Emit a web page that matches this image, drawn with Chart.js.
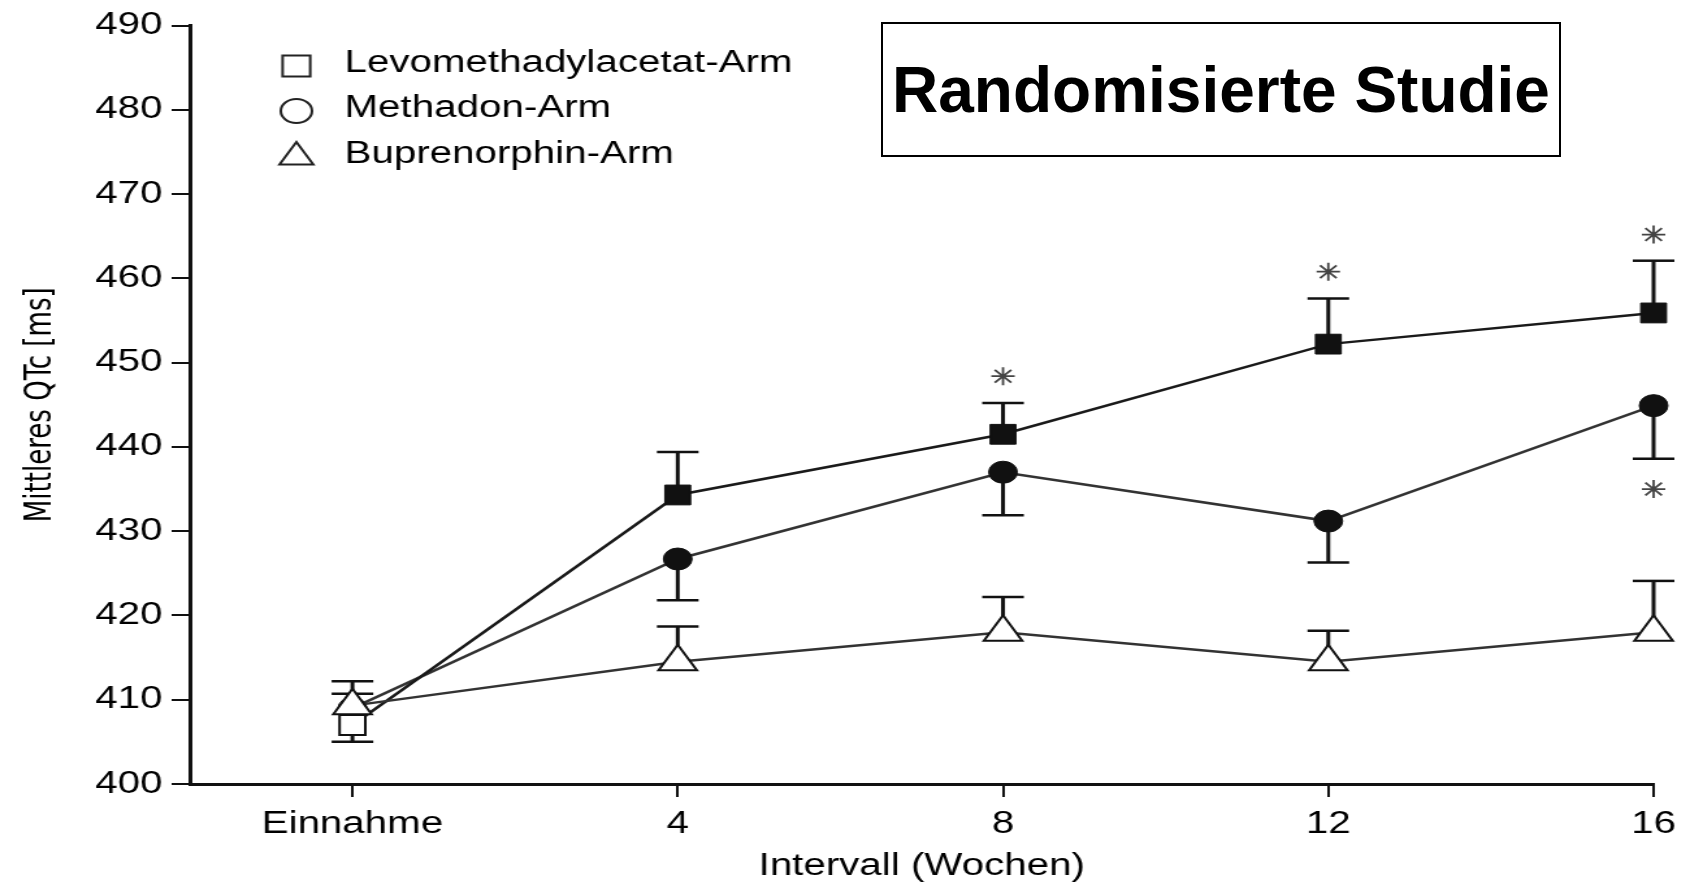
<!DOCTYPE html>
<html>
<head>
<meta charset="utf-8">
<script src="https://cdn.jsdelivr.net/npm/chart.js@4.4.0/dist/chart.umd.min.js"></script>
<style>
    html, body { margin: 0; padding: 0; background: #fff; overflow: hidden; }
    /* the source figure is stretched horizontally, so the canvas is too */
    #wrap { position: absolute; left: 0; top: 0; width: 1294px; height: 885px; transform: scaleX(1.3); transform-origin: 0 0; }
    #titleBox {
        position: absolute; left: 881px; top: 22px; width: 680px; height: 135px;
        box-sizing: border-box; border: 2.5px solid #000; background: #fff;
        font: bold 64px 'Liberation Sans', Arial, sans-serif; color: #000;
        display: flex; align-items: center; justify-content: center;
    }
</style>
</head>
<body>
<div id="wrap"><canvas id="qtcChart" width="1294" height="885"></canvas></div>
<div id="titleBox">Randomisierte Studie</div>

<script>
// ============================================
// DATOS
// ============================================

const weeks = [0, 4, 8, 12, 16];
const weekLabels = ['Einnahme', '4', '8', '12', '16'];

const seriesNames = ['Levomethadylacetat-Arm', 'Methadon-Arm', 'Buprenorphin-Arm'];

const levoMean = [407.0, 434.3, 441.5, 452.2, 455.9];
const levoErrEnd = [405.0, 439.4, 445.2, 457.6, 462.1];

const methMean = [409.0, 426.7, 437.0, 431.2, 444.9];
const methErrEnd = [410.7, 421.8, 431.9, 426.3, 438.6];

const bupMean = [409.3, 414.5, 418.0, 414.5, 418.0];
const bupErrEnd = [412.2, 418.7, 422.2, 418.2, 424.1];

// significance markers (*)
const starWeeks = [8, 12, 16, 16];
const starValues = [448.4, 460.8, 465.2, 435.0];

const yMin = 400;
const yMax = 490;
const yStep = 10;

const FONT = "'Liberation Sans', Arial, sans-serif";

// ============================================
// PLUGINS
// ============================================

const means = [levoMean, methMean, bupMean];
const errEnds = [levoErrEnd, methErrEnd, bupErrEnd];

const errorBarPlugin = {
    id: 'errorBars',
    beforeDatasetsDraw(chart) {
        const { ctx } = chart;
        const x = chart.scales.x;
        const y = chart.scales.y;
        ctx.save();
        ctx.strokeStyle = '#111';
        errEnds.forEach((ends, di) => {
            ends.forEach((end, i) => {
                const px = x.getPixelForValue(weeks[i]);
                const p0 = y.getPixelForValue(means[di][i]);
                const p1 = y.getPixelForValue(end);
                ctx.lineWidth = 3;
                ctx.beginPath();
                ctx.moveTo(px, p0);
                ctx.lineTo(px, p1);
                ctx.stroke();
                ctx.lineWidth = 2.5;
                ctx.beginPath();
                ctx.moveTo(px - 16, p1);
                ctx.lineTo(px + 16, p1);
                ctx.stroke();
            });
        });
        ctx.restore();
    }
};

const legendMarks = [
    { style: 'rect', radius: 15 },
    { style: 'circle', radius: 12 },
    { style: 'triangle', radius: 15 }
];

const innerLegendPlugin = {
    id: 'innerLegend',
    afterDraw(chart) {
        const { ctx } = chart;
        const left = chart.chartArea.left;
        const rows = [63, 108, 154];
        ctx.save();
        seriesNames.forEach((name, i) => {
            ctx.strokeStyle = '#222';
            ctx.fillStyle = '#fff';
            ctx.lineWidth = 2;
            Chart.helpers.drawPoint(ctx, {
                pointStyle: legendMarks[i].style,
                radius: legendMarks[i].radius,
                rotation: 0,
                borderWidth: 2
            }, left + 82, rows[i] + 3);
            ctx.fillStyle = '#000';
            ctx.font = '31px ' + FONT;
            ctx.textBaseline = 'middle';
            ctx.textAlign = 'left';
            ctx.fillText(name, left + 119, rows[i]);
        });
        ctx.restore();
    }
};

// ============================================
// GRÁFICO
// ============================================

function toPoints(values) {
    return weeks.map((w, i) => ({ x: w, y: values[i] }));
}

// baseline markers are hollow in the source figure
const hollowFirst = weeks.map((w, i) => (i === 0 ? '#fff' : '#111'));

const ctx = document.getElementById('qtcChart').getContext('2d');
new Chart(ctx, {
    type: 'line',
    data: {
        datasets: [
            {
                label: seriesNames[0],
                data: toPoints(levoMean),
                order: 2,
                clip: false,
                borderColor: '#1a1a1a',
                borderWidth: 2.5,
                pointStyle: 'rect',
                pointRadius: 14,
                pointBackgroundColor: hollowFirst,
                pointBorderColor: '#111',
                pointBorderWidth: [2, 1, 1, 1, 1]
            },
            {
                label: seriesNames[1],
                data: toPoints(methMean),
                order: 3,
                clip: false,
                borderColor: '#333',
                borderWidth: 2.5,
                pointStyle: 'circle',
                pointRadius: 11,
                pointBackgroundColor: hollowFirst,
                pointBorderColor: '#111',
                pointBorderWidth: 1
            },
            {
                label: seriesNames[2],
                data: toPoints(bupMean),
                order: 1,
                clip: false,
                borderColor: '#333',
                borderWidth: 2.5,
                pointStyle: 'triangle',
                pointRadius: 17,
                pointBackgroundColor: '#fff',
                pointBorderColor: '#111',
                pointBorderWidth: 2
            },
            {
                label: 'signifikant',
                data: starWeeks.map((w, i) => ({ x: w, y: starValues[i] })),
                order: 0,
                clip: false,
                showLine: false,
                pointStyle: 'star',
                pointRadius: 9,
                pointBorderColor: '#444',
                pointBorderWidth: 1.8
            }
        ]
    },
    options: {
        responsive: false,
        animation: false,
        events: [],
        layout: { autoPadding: false, padding: { top: 23, right: 22, bottom: 0, left: 0 } },
        plugins: {
            legend: { display: false },
            tooltip: { enabled: false }
        },
        scales: {
            x: {
                type: 'linear',
                min: -2,
                max: 16,
                afterFit: scale => {
                    scale.height = 101;
                    // the "16" label may hang past the axis end, as in the source
                    scale.paddingLeft = 0;
                    scale.paddingRight = 0;
                },
                afterBuildTicks: scale => {
                    scale.ticks = weeks.map(v => ({ value: v }));
                },
                ticks: {
                    autoSkip: false,
                    maxRotation: 0,
                    padding: 9,
                    color: '#000',
                    font: { family: FONT, size: 31 },
                    callback: value => weekLabels[weeks.indexOf(value)]
                },
                grid: {
                    display: true,
                    drawOnChartArea: false,
                    drawTicks: true,
                    tickLength: 13,
                    color: '#111',
                    lineWidth: 2
                },
                border: { display: true, color: '#111', width: 3 },
                title: {
                    display: true,
                    text: 'Intervall (Wochen)',
                    color: '#000',
                    font: { family: FONT, size: 31 },
                    padding: { top: 0, bottom: 0 }
                }
            },
            y: {
                min: yMin,
                max: yMax,
                afterFit: scale => { scale.width = 146; },
                ticks: {
                    stepSize: yStep,
                    padding: 7,
                    color: '#000',
                    font: { family: FONT, size: 31 }
                },
                grid: {
                    display: true,
                    drawOnChartArea: false,
                    drawTicks: true,
                    tickLength: 14,
                    color: '#111',
                    lineWidth: 2
                },
                border: { display: true, color: '#111', width: 3 },
                title: {
                    display: true,
                    text: 'Mittleres QTc [ms]',
                    color: '#000',
                    font: { family: "'Liberation Sans Narrow', 'DejaVu Sans Condensed', sans-serif", size: 29 },
                    padding: { top: 14, bottom: 0 }
                }
            }
        }
    },
    plugins: [errorBarPlugin, innerLegendPlugin]
});
</script>
</body>
</html>
